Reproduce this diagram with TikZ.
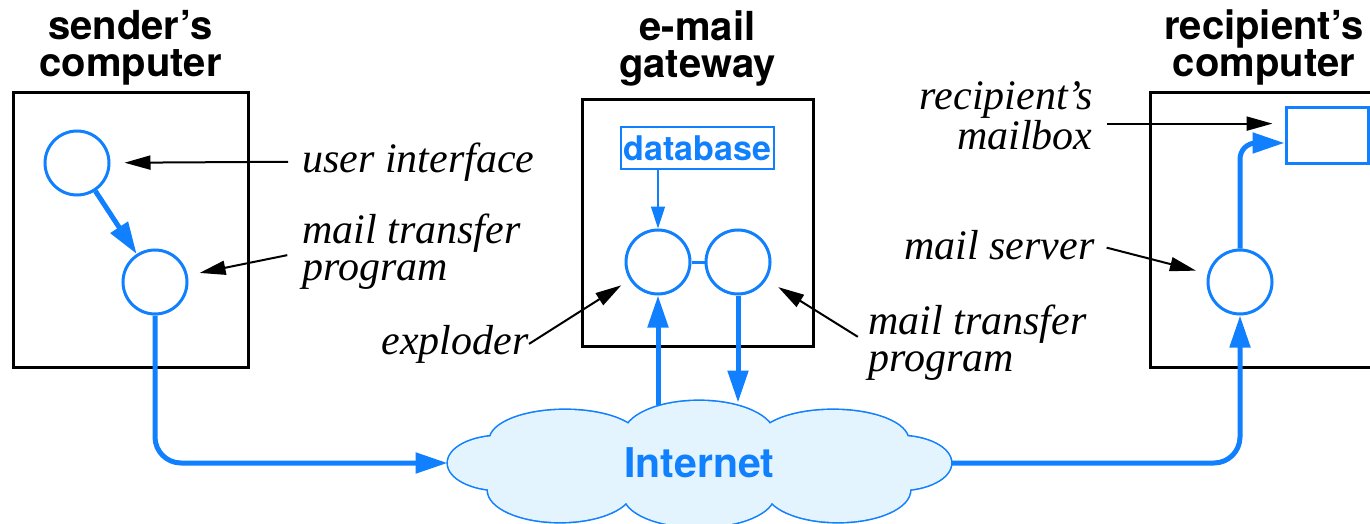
\documentclass[tikz,border=0pt]{standalone}
\usepackage{fontspec}
\setmainfont{Liberation Serif}
\setsansfont{TeX Gyre Heros}
\usetikzlibrary{arrows.meta,positioning}
\definecolor{netblue}{RGB}{16,128,255}
\definecolor{netfill}{RGB}{228,244,255}

\begin{document}
\begin{tikzpicture}[x=0.5pt,y=-0.5pt,
        comp/.style={draw,line width=1.5pt,inner sep=0pt},
        title/.style={font=\sffamily\bfseries\fontsize{20}{18.5}\selectfont,align=center,inner sep=0pt},
        proc/.style={circle,draw=netblue,line width=1.5pt,minimum size=32pt,inner sep=0pt},
        lab/.style={font=\itshape\fontsize{21}{18.5}\selectfont,inner sep=0pt},
        flow/.style={draw=netblue,line width=2.5pt,-{Triangle[length=16pt,width=10pt]}},
        point/.style={line width=1pt,-{Triangle[length=13pt,width=7pt]}}]
        \useasboundingbox (0,0) rectangle (1370,524);
        % the three computers
        \node[comp,minimum width=117.5pt,minimum height=137pt] (sender) at (130.5,230) {};
        \node[comp,minimum width=115.5pt,minimum height=123pt] (gateway) at (697.5,223) {};
        \node[comp,minimum width=114pt,minimum height=137pt] (recip) at (1264,230) {};
        \node[title,above=3pt of sender] (tsender) {sender's\\computer};
        \node[title,above=6pt of gateway] (tgateway) {e-mail\\gateway};
        \node[title,above=3pt of recip] (trecip) {recipient's\\computer};
        % programs
        \node[proc] (ui) at (77,163) {};
        \node[proc] (mtp) at (155,282) {};
        \node[proc] (expl) at (658,262) {};
        \node[proc] (gmtp) at (738,262) {};
        \node[proc] (srv) at (1240,282) {};
        \node[draw=netblue,line width=1.5pt,minimum width=41pt,minimum height=27.5pt] (mbox) at (1327,135.5) {};
        \node[draw=netblue,line width=1pt,text=netblue,inner sep=0pt,minimum width=76.5pt,minimum height=21pt,
            font=\sffamily\bfseries\fontsize{17}{17}\selectfont] (db) at (697.5,148) {database};
        % the Internet cloud: outlined puffs, then filled again so only the rim shows
        \draw[netblue,line width=1.6pt] (500,463) ellipse [x radius=52,y radius=27]
            (565,440) ellipse [x radius=75,y radius=30] (699,435) ellipse [x radius=75,y radius=34]
            (833,440) ellipse [x radius=75,y radius=30] (899,463) ellipse [x radius=52,y radius=27]
            (560,490) ellipse [x radius=72,y radius=32] (699,495) ellipse [x radius=75,y radius=32]
            (838,490) ellipse [x radius=72,y radius=32];
        \fill[netfill] (500,463) ellipse [x radius=52,y radius=27]
            (565,440) ellipse [x radius=75,y radius=30] (699,435) ellipse [x radius=75,y radius=34]
            (833,440) ellipse [x radius=75,y radius=30] (899,463) ellipse [x radius=52,y radius=27]
            (560,490) ellipse [x radius=72,y radius=32] (699,495) ellipse [x radius=75,y radius=32]
            (838,490) ellipse [x radius=72,y radius=32] (699,463) ellipse [x radius=200,y radius=40];
        \node[minimum width=251.5pt,minimum height=62pt,text=netblue,
            font=\sffamily\bfseries\fontsize{20.5}{20}\selectfont] (net) at (699.5,463) {Internet};
        % mail path
        \draw[flow] (ui) -- (mtp);
        \draw[flow,rounded corners=13pt] (mtp) |- (net.west);
        \draw[flow] ([yshift=-2pt]net.north -| expl) -- (expl);
        \draw[flow] (gmtp) -- ([yshift=-1pt]net.north -| gmtp);
        \draw[flow,rounded corners=13pt] (net.east) -| (srv);
        \draw[flow,rounded corners=8pt] (srv) |- (mbox.190);
        \draw[netblue,line width=1.5pt] (expl) -- (gmtp);
        \draw[netblue,line width=0.8pt,-{Triangle[length=11pt,width=7pt]}] (db.south -| expl) -- (expl);
        % labels
        \node[lab,anchor=base west] (lui) at (302,172) {user interface};
        \node[lab,anchor=north west,align=left] (lmtp) at (302,214) {mail transfer\\program};
        \node[lab,anchor=base east] (lexp) at (529,354) {exploder};
        \node[lab,anchor=north west,align=left] (lgmtp) at (868,305) {mail transfer\\program};
        \node[lab,anchor=base east] (lsrv) at (1095,259) {mail server};
        \node[lab,anchor=north east,align=right] (lmbox) at (1093,81) {recipient's\\mailbox};
        \draw[point,shorten <=7pt,shorten >=7pt] (lui.west) -- (ui);
        \draw[point,shorten <=7.5pt,shorten >=6pt] (lmtp.west) -- (mtp);
        \draw[point,shorten >=5pt] (lexp.east) -- (expl);
        \draw[point,shorten <=6pt,shorten >=7pt] (lgmtp.west) -- (gmtp);
        \draw[point,shorten <=6pt,shorten >=6pt] (lsrv.east) -- (srv);
        \draw[point,shorten <=7pt,shorten >=6pt] ([yshift=-4pt]lmbox.east) -- ([yshift=-4pt]lmbox.east -| mbox.west);
    \end{tikzpicture}
\end{document}
